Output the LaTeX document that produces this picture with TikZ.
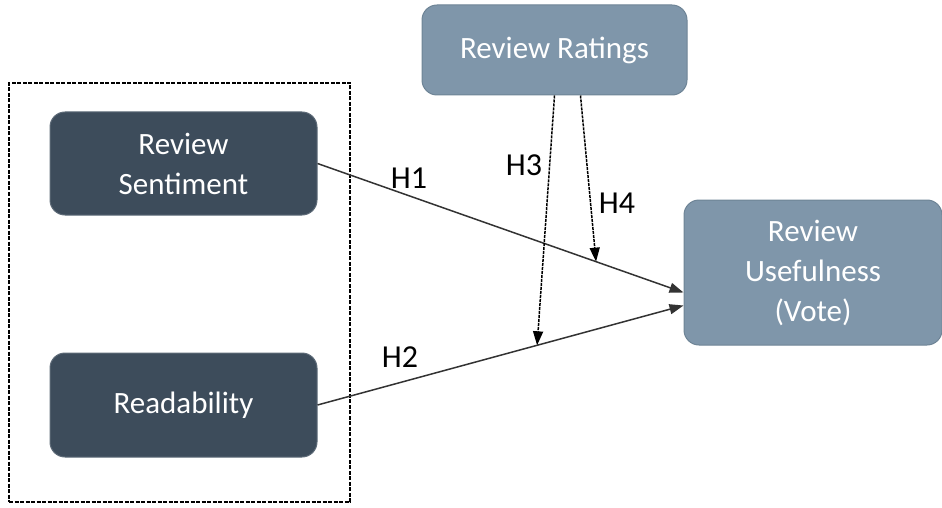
\documentclass[tikz,border=0pt]{standalone}
\usepackage{fontspec}
\setmainfont{Carlito}
\usetikzlibrary{arrows.meta,calc}
\definecolor{darkbox}{HTML}{3D4C5B}
\definecolor{darkedge}{HTML}{5E6B78}
\definecolor{lightbox}{HTML}{7F96AA}
\definecolor{lightedge}{HTML}{6E8496}
\tikzset{
  darknode/.style={rectangle, rounded corners=15pt, fill=darkbox, draw=darkedge, line width=1pt,
    text=white, font=\fontsize{31}{40}\selectfont, align=center, inner sep=0pt},
  lightnode/.style={rectangle, rounded corners=15pt, fill=lightbox, draw=lightedge, line width=1pt,
    text=white, font=\fontsize{31}{40}\selectfont, align=center, inner sep=0pt},
  mainarrow/.style={draw=black!80, line width=1.5pt, -{Triangle[length=14pt,width=10pt]}},
  modarrow/.style={draw=black, line width=1.5pt, dash pattern=on 3pt off 1pt, -{Triangle[length=14pt,width=10pt]}},
  hlabel/.style={font=\fontsize{32}{34}\selectfont, text=black, inner sep=0pt},
}
\begin{document}
\begin{tikzpicture}[x=1pt,y=-1pt]
\useasboundingbox (0,0) rectangle (942,508);
\node[draw=black, line width=2.6pt, dash pattern=on 4pt off 1.5pt, minimum width=341pt, minimum height=419pt, inner sep=0pt] (group) at (179.5,292.5) {};
\node[darknode, minimum width=267pt, minimum height=103pt] (sent) at (183.5,163.5) {Review\\Sentiment};
\node[darknode, minimum width=267pt, minimum height=104pt] (read) at (183.5,405) {Readability};
\node[lightnode, minimum width=265pt, minimum height=90pt] (rat) at (554.5,50) {Review Ratings};
\node[lightnode, minimum width=258pt, minimum height=145pt] (use) at (813,272.5) {Review\\Usefulness\\(Vote)};
\coordinate (useA) at ($(use.west)+(0,20)$);
\coordinate (useB) at ($(use.west)+(0,33)$);
\draw[mainarrow] (sent.east) -- (useA) coordinate[pos=0.761] (h4end);
\draw[mainarrow] (read.east) -- (useB) coordinate[pos=0.60] (h3end);
\draw[modarrow] (rat.south) -- (h3end);
\draw[modarrow] ($(rat.south)+(26,0)$) -- (h4end);
\node[hlabel] (h1) at (409,178) {H1};
\node[hlabel] (h2) at (400,357) {H2};
\node[hlabel] (h3) at (524,165) {H3};
\node[hlabel] (h4) at (617,203) {H4};
\end{tikzpicture}
\end{document}
